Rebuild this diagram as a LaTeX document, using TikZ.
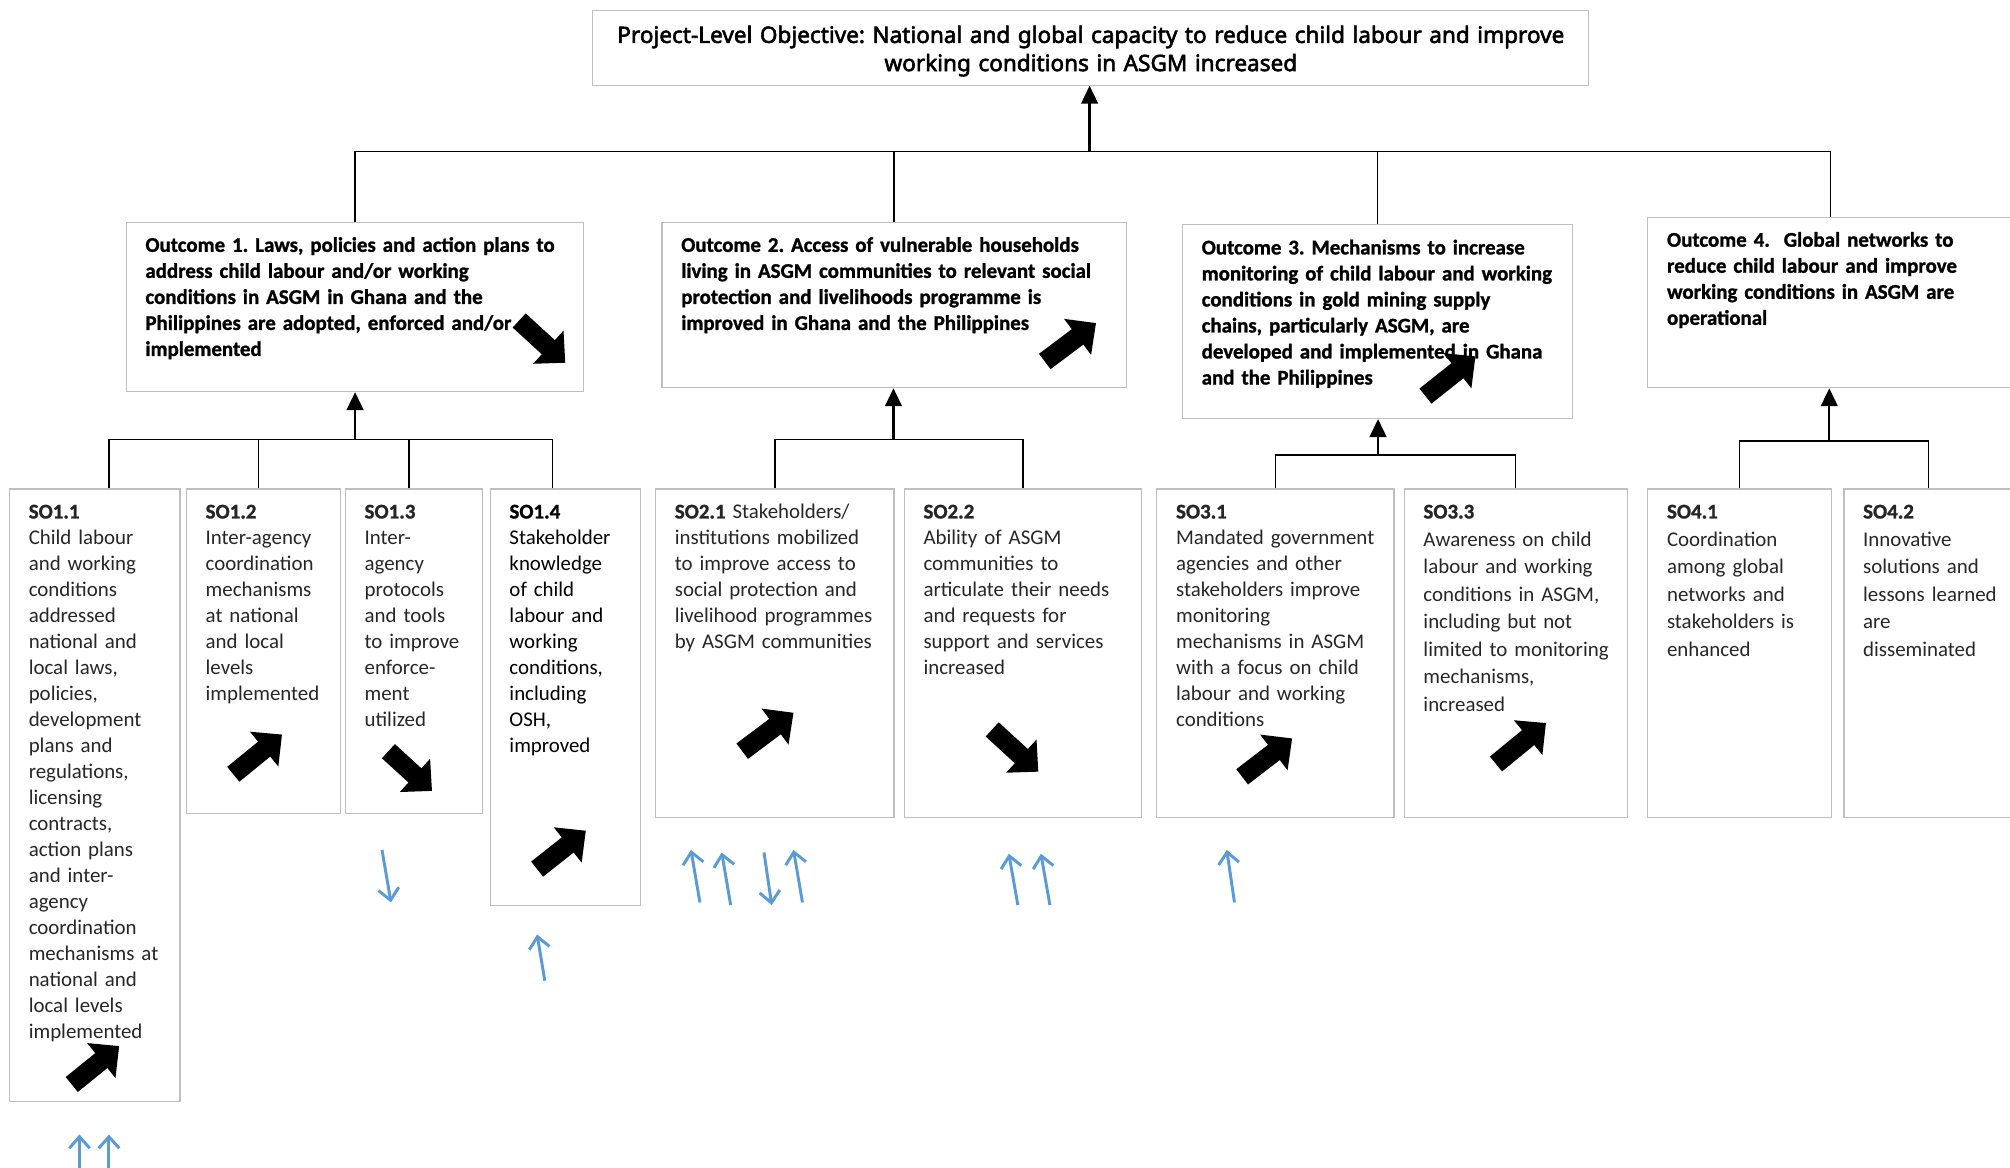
\documentclass[tikz,border=0pt]{standalone}
\usepackage{fontspec}
\setmainfont{Carlito}[BoldFeatures={FakeBold=1.2}]
\newfontfamily\headfont{Noto Sans}[FakeBold=2.6]
\usetikzlibrary{arrows.meta}
\definecolor{boxline}{HTML}{BFBFBF}
\definecolor{cueblue}{HTML}{5B9BD5}
\frenchspacing

\begin{document}
\begin{tikzpicture}[x=1pt, y=-1pt]
\tikzset{
    box/.style={draw=boxline, line width=0.9pt, anchor=north west, inner xsep=15pt, inner ysep=12pt,
        text height=11pt, align=left, text=black!85, font=\fontsize{16.3}{20.3}\selectfont,
        execute at begin node={\rightskip=-25pt plus 1fil\hyphenpenalty=10000}},
    outbox/.style={box, text=black, font=\bfseries\fontsize{16.3}{20.3}\selectfont},
    loose/.style={font=\fontsize{16.3}{21.5}\selectfont},
    lnk/.style={draw=black, line width=1.1pt},
    feedup/.style={draw=black, line width=1.9pt, -{Triangle[length=14pt,width=13pt]}},
    bigarrow/.style={line width=15pt, -{Triangle[length=18pt,width=34pt]}},
    cue/.style={draw=cueblue, line width=2.3pt, -{Straight Barb[length=9pt,width=16pt]}}
}
\useasboundingbox (0,0) rectangle (1568,911);

% project objective
\node[draw=boxline, line width=0.9pt, anchor=north west, inner xsep=15pt, inner ysep=12pt,
    text width=747pt, text height=13pt, text depth=21pt, align=center,
    font=\headfont\fontsize{17.6}{22}\selectfont] (obj) at (462,8)
    {Project-Level Objective: National and global capacity to reduce child labour and improve\\
     working conditions in ASGM increased};

% outcomes
\node[outbox, text width=327pt, text depth=97pt] (o1) at (98,173)
    {Outcome 1. Laws, policies and action plans to\\address child labour and/or working\\
     conditions in ASGM in Ghana and the\\Philippines are adopted, enforced and/or\\implemented};
\node[outbox, text width=332pt, text depth=94pt] (o2) at (516,173)
    {Outcome 2. Access of vulnerable households\\living in ASGM communities to relevant social\\
     protection and livelihoods programme is\\improved in Ghana and the Philippines};
\node[outbox, text width=274pt, text depth=116pt] (o3) at (922,175)
    {Outcome 3. Mechanisms to increase\\monitoring of child labour and working\\
     conditions in gold mining supply\\chains, particularly ASGM, are\\
     developed and implemented in Ghana\\and the Philippines};
\node[outbox, text width=255pt, text depth=98pt] (o4) at (1285,169)
    {Outcome 4.\ \ Global networks to\\reduce child labour and improve\\
     working conditions in ASGM are\\operational};

% sub-outcomes
\node[box, text width=103pt, text depth=443pt] (so11) at (7,381)
    {\textbf{SO1.1}\\Child labour\\and working\\conditions\\addressed\\national and\\local laws,\\
     policies,\\development\\plans and\\regulations,\\licensing\\contracts,\\action plans\\
     and inter-\\agency\\coordination\\mechanisms at\\national and\\local levels\\implemented};
\node[box, text width=90pt, text depth=218pt] (so12) at (145,381)
    {\textbf{SO1.2}\\Inter-agency\\coordination\\mechanisms\\at national\\and local\\levels\\implemented};
\node[box, text width=77pt, text depth=218pt] (so13) at (269,381)
    {\textbf{SO1.3}\\Inter-\\agency\\protocols\\and tools\\to improve\\enforce-\\ment\\utilized};
\node[box, text=black, text width=87pt, text depth=290pt] (so14) at (382,381)
    {\textbf{SO1.4}\\Stakeholder\\knowledge\\of child\\labour and\\working\\conditions,\\including\\OSH,\\improved};
\node[box, text width=156pt, text depth=221pt] (so21) at (511,381)
    {\textbf{SO2.1} Stakeholders/\\institutions mobilized\\to improve access to\\
     social protection and\\livelihood programmes\\by ASGM communities};
\node[box, text width=155pt, text depth=221pt] (so22) at (705,381)
    {\textbf{SO2.2}\\Ability of ASGM\\communities to\\articulate their needs\\
     and requests for\\support and services\\increased};
\node[box, text width=155pt, text depth=221pt] (so31) at (902,381)
    {\textbf{SO3.1}\\Mandated government\\agencies and other\\stakeholders improve\\monitoring\\
     mechanisms in ASGM\\with a focus on child\\labour and working\\conditions};
\node[box, loose, text width=144pt, text depth=221pt] (so33) at (1095,381)
    {\textbf{SO3.3}\\Awareness on child\\labour and working\\conditions in ASGM,\\
     including but not\\limited to monitoring\\mechanisms,\\increased};
\node[box, loose, text width=113pt, text depth=221pt] (so41) at (1285,381)
    {\textbf{SO4.1}\\Coordination\\among global\\networks and\\stakeholders is\\enhanced};
\node[box, loose, text width=102pt, text depth=221pt] (so42) at (1438,381)
    {\textbf{SO4.2}\\Innovative\\solutions and\\lessons learned\\are\\disseminated};

% outcomes -> objective
\coordinate (jtop) at (850,118);
\draw[lnk] (o1.north) |- (jtop);
\draw[lnk] (o2.north) |- (jtop);
\draw[lnk] (o3.north) |- (jtop);
\draw[lnk] (o4.north) |- (jtop);
\draw[feedup] (jtop) -- (jtop |- obj.south);

% sub-outcomes -> outcomes
\coordinate (j1) at (277,343);
\draw[lnk] ([xshift=11pt]so11.north) |- (j1);
\draw[lnk] ([xshift=-4pt]so12.north) |- (j1);
\draw[lnk] ([xshift=-4pt]so13.north) |- (j1);
\draw[lnk] ([xshift=-10pt]so14.north) |- (j1);
\draw[feedup] (j1) -- (j1 |- o1.south);

\coordinate (j2) at (697,343);
\draw[lnk] (so21.north) |- (j2);
\draw[lnk] (so22.north) |- (j2);
\draw[feedup] (j2) -- (j2 |- o2.south);

\coordinate (j3) at (1075,355);
\draw[lnk] (so31.north) |- (j3);
\draw[lnk] (so33.north) |- (j3);
\draw[feedup] (j3) -- (j3 |- o3.south);

\coordinate (j4) at (1427,344);
\draw[lnk] (so41.north) |- (j4);
\draw[lnk] (so42.north) |- (j4);
\draw[feedup] (j4) -- (j4 |- o4.south);

% trend arrows
\draw[bigarrow] (405,250) -- (441,283);
\draw[bigarrow] (815,282) -- (855,252);
\draw[bigarrow] (1112,309) -- (1151,278);
\draw[bigarrow] (56,846) -- (93,816);
\draw[bigarrow] (182,604) -- (220,573);
\draw[bigarrow] (303,586) -- (337,617);
\draw[bigarrow] (419,678) -- (457,648);
\draw[bigarrow] (579,586) -- (619,556);
\draw[bigarrow] (774,569) -- (810,602);
\draw[bigarrow] (969,606) -- (1008,576);
\draw[bigarrow] (1167,596) -- (1206,564);

% blue cues
\draw[cue] (62,918) -- (62,885);
\draw[cue] (85,918) -- (85,885);
\draw[cue] (298,663) -- (305,704);
\draw[cue] (425,765) -- (419,729);
\draw[cue] (546,704) -- (539,663);
\draw[cue] (570,706) -- (563,665);
\draw[cue] (596,665) -- (602,706);
\draw[cue] (626,704) -- (619,663);
\draw[cue] (794,706) -- (787,666);
\draw[cue] (819,706) -- (812,666);
\draw[cue] (963,704) -- (957,663);
\end{tikzpicture}
\end{document}
